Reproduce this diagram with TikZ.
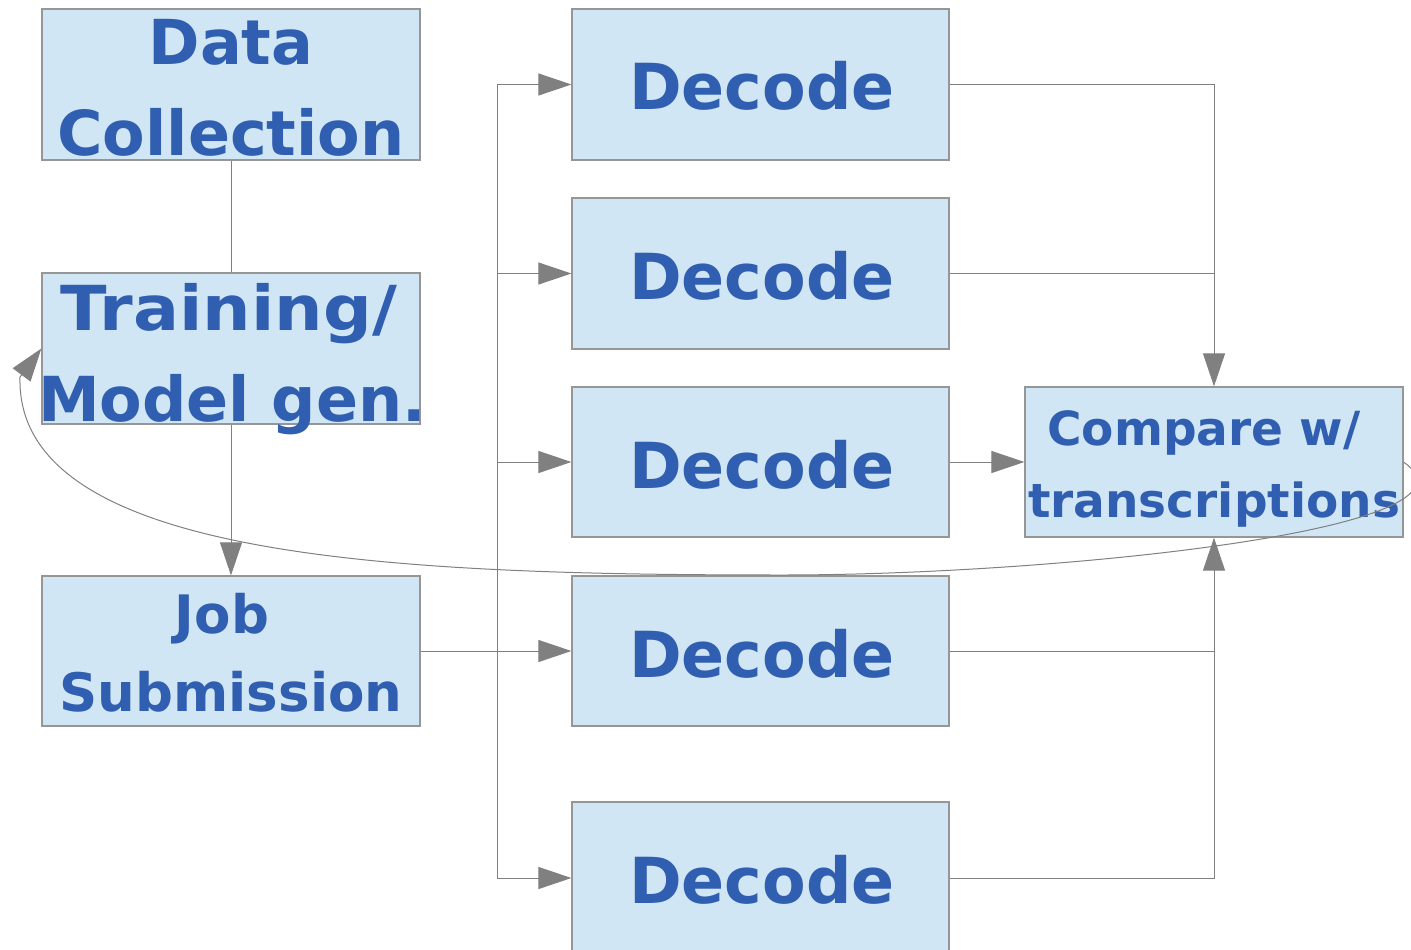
\documentclass[tikz,border=0pt]{standalone}
\usepackage{fontspec}
\setmainfont{DejaVu Sans}
\usetikzlibrary{arrows.meta}
\definecolor{boxfill}{RGB}{208,230,244}
\definecolor{boxline}{RGB}{150,150,150}
\definecolor{txtblue}{RGB}{48,94,176}
\definecolor{conngray}{RGB}{128,128,128}
\begin{document}
\begin{tikzpicture}[x=1pt,y=-1pt,
  box/.style={draw=boxline, fill=boxfill, line width=1.2pt, minimum width=378pt, minimum height=151pt, inner sep=0pt},
  lbl/.style={text=txtblue, font=\bfseries\fontsize{62}{62}\selectfont, anchor=base, inner sep=0pt},
  lbld/.style={lbl, font=\bfseries\fontsize{63.5}{63.5}\selectfont},
  lblj/.style={lbl, font=\bfseries\fontsize{53}{53}\selectfont},
  lblc/.style={lbl, font=\bfseries\fontsize{47}{47}\selectfont},
  conn/.style={draw=conngray, line width=1pt},
  arr/.style={conn, -{Triangle[length=33pt,width=22pt]}},
]
\useasboundingbox (0,0) rectangle (1411,950);

% boxes
\node[box] (dc) at (231,84.5) {};
\node[box] (train) at (231,348.5) {};
\node[box, minimum height=150pt] (job) at (231,651) {};
\node[box, minimum width=377pt] (dec1) at (760.5,84.5) {};
\node[box, minimum width=377pt] (dec2) at (760.5,273.5) {};
\node[box, minimum width=377pt, minimum height=150pt] (dec3) at (760.5,462) {};
\node[box, minimum width=377pt, minimum height=150pt] (dec4) at (760.5,651) {};
\node[box, minimum width=377pt, minimum height=160pt] (dec5) at (760.5,882) {};
\node[box, minimum height=150pt] (cmp) at (1214,462) {};

% labels
\node[lbl] (dct1) at (231,65) {Data};
\node[lbl] (dct2) at (231,155) {Collection};
\node[lbl, xscale=1.1, transform shape] (trt1) at (229,330) {Training/};
\node[lbl] (trt2) at (232,421) {Model gen.};
\node[lblj] (jbt1) at (222,633) {Job};
\node[lblj] (jbt2) at (231,711) {Submission};
\node[lbld] (d1t) at (762,110) {Decode};
\node[lbld] (d2t) at (762,299) {Decode};
\node[lbld] (d3t) at (762,488) {Decode};
\node[lbld] (d4t) at (762,677) {Decode};
\node[lbld] (d5t) at (762,903) {Decode};
\node[lblc] (cmt1) at (1204,445) {Compare w/};
\node[lblc] (cmt2) at (1214,517) {transcriptions};

% left column
\draw[conn] (dc.south) -- (train.north);
\draw[arr] (train.south) -- (job.north);

% fan-out trunk
\coordinate (tt) at (497,84.5);
\coordinate (tb) at (497,878);
\draw[conn] (tt) -- (tb);
\draw[arr] (job.east) -- (dec4.west);
\draw[arr] (tt) -- (dec1.west);
\draw[arr] (tt |- dec2.west) -- (dec2.west);
\draw[arr] (tt |- dec3.west) -- (dec3.west);
\draw[arr] (tb) -- (tb -| dec5.west);

% fan-in
\draw[arr] (dec1.east) -| (cmp.north);
\draw[conn] (dec2.east) -- (dec2.east -| cmp.north);
\draw[arr] (dec3.east) -- (cmp.west);
\draw[conn] (dec4.east) -- (dec4.east -| cmp.south);
\draw[arr] (tb -| dec5.east) -| (cmp.south);

% feedback curve
\coordinate (ab) at (20,377);
\draw[conn] (cmp.east) .. controls (1500,530) and (1050,575) .. (783,575)
  .. controls (400,575) and (15,560) .. (ab);
\draw[arr] (ab) -- (train.west);
\end{tikzpicture}
\end{document}
